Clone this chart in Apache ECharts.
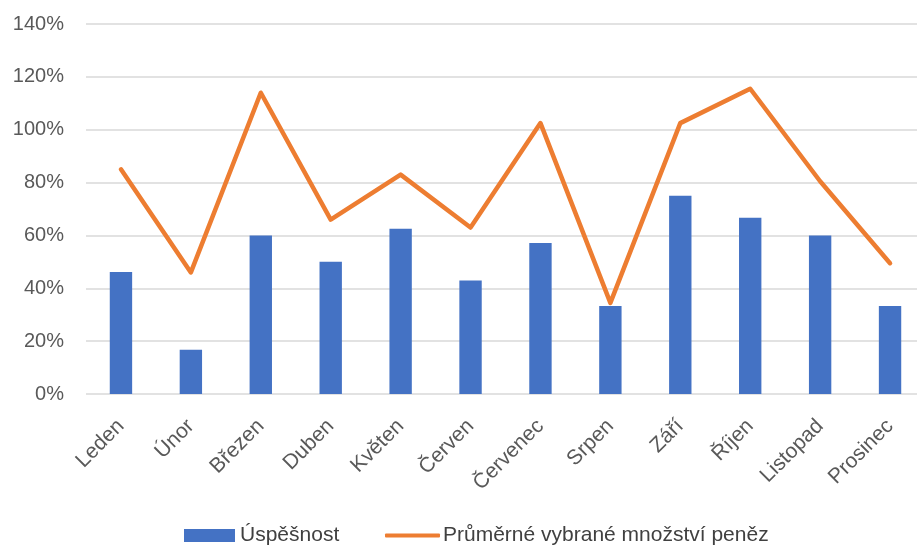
<!DOCTYPE html>
<html><head><meta charset="utf-8">
<script src="https://cdn.jsdelivr.net/npm/echarts@6/dist/echarts.min.js"></script>
<style>html,body{margin:0;padding:0;background:#fff;overflow:hidden}#c{width:927px;height:545px}</style>
</head><body><div id="c"></div>
<script>
const categories = ['Leden','Únor','Březen','Duben','Květen','Červen','Červenec','Srpen','Září','Říjen','Listopad','Prosinec'];
const successRate = [46.2, 16.7, 60, 50, 62.5, 42.9, 57.1, 33.3, 75, 66.7, 60, 33.3];
const avgMoney = [85, 46, 114, 66, 83, 63, 102.5, 34.5, 102.5, 115.5, 80.5, 49.5];
const seriesNames = ['Úspěšnost', 'Průměrné vybrané množství peněz'];
const yTicks = {min: 0, max: 140, interval: 20};

const font = 'Liberation Sans, Arial, sans-serif';
const chart = echarts.init(document.getElementById('c'), null, {renderer: 'canvas'});
chart.setOption({
  animation: false,
  backgroundColor: '#fff',
  grid: {left: 86, top: 24, right: 2, bottom: 151, containLabel: false},
  legend: [
    {data: [seriesNames[0]], left: 179, top: 520, icon: 'rect', itemWidth: 51, itemHeight: 13, itemGap: 6,
     textStyle: {color: '#404040', fontSize: 21, fontFamily: font, padding: [0, 0, 0, 0]}},
    {data: [seriesNames[1]], left: 380, top: 520, icon: 'roundRect', itemWidth: 55, itemHeight: 4, itemGap: 4,
     textStyle: {color: '#404040', fontSize: 21, fontFamily: font, padding: [0, 0, 0, -2]}}
  ],
  xAxis: {
    type: 'category', data: categories, boundaryGap: true,
    axisLine: {show: false}, axisTick: {show: false},
    axisLabel: {rotate: 45, color: '#595959', fontSize: 21, fontFamily: font, margin: 29, interval: 0}
  },
  yAxis: {
    type: 'value', min: yTicks.min, max: yTicks.max, interval: yTicks.interval,
    axisLine: {show: false}, axisTick: {show: false},
    axisLabel: {formatter: '{value}%', color: '#595959', fontSize: 20, fontFamily: font, margin: 22},
    splitLine: {lineStyle: {color: '#d9d9d9', width: 1.5}}
  },
  series: [
    {name: seriesNames[0], type: 'bar', data: successRate, barWidth: '32%',
     itemStyle: {color: '#4472C4'}},
    {name: seriesNames[1], type: 'line', data: avgMoney, symbol: 'none', showSymbol: false,
     lineStyle: {color: '#ED7D31', width: 4.5, join: 'round', cap: 'round'},
     itemStyle: {color: '#ED7D31'}}
  ]
});
</script></body></html>
